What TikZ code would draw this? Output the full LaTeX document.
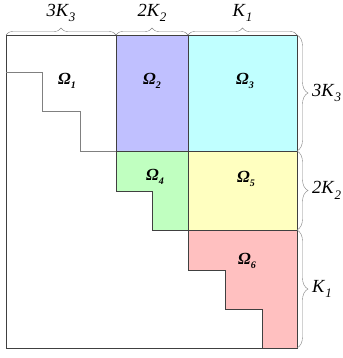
\documentclass[tikz,border=0pt]{standalone}
\usepackage{fontspec}
\setmainfont{Liberation Serif}
\usetikzlibrary{decorations.pathreplacing}
\definecolor{omlila}{RGB}{192,192,255}
\definecolor{omcyan}{RGB}{192,255,255}
\definecolor{omgreen}{RGB}{192,255,192}
\definecolor{omyellow}{RGB}{255,255,192}
\definecolor{ompink}{RGB}{255,192,192}
\newcommand{\kk}[2]{\textit{#1K}\raisebox{-0.3em}{\fontsize{13}{13}\selectfont\textit{#2}}}
\newcommand{\om}[1]{\textbf{\textit{Ω}}\raisebox{-0.25em}{\fontsize{10}{10}\selectfont\textbf{\textit{#1}}}}
\begin{document}
\begin{tikzpicture}[x=1pt,y=-1pt,
  box/.style={draw=black!75,line width=0.6pt},
  stair/.style={draw=black!50,line width=0.9pt},
  kbrace/.style={draw=black!50,decorate,decoration={brace,amplitude=#1}},
  kbrace/.default=7pt,
  klabel/.style={font=\fontsize{18.5}{18.5}\selectfont,inner sep=1pt},
  omlabel/.style={font=\fontsize{17}{17}\selectfont,inner sep=1pt}]
\useasboundingbox (0,0) rectangle (342,358);
% coloured blocks
\fill[omlila] (116,35) rectangle (188,151);
\fill[omcyan] (188,35) rectangle (297,151);
\fill[omgreen] (116,151) -- (188,151) -- (188,230) -- (152,230) -- (152,191) -- (116,191) -- cycle;
\fill[omyellow] (188,151) rectangle (297,230);
\fill[ompink] (188,230) -- (297,230) -- (297,348) -- (262,348) -- (262,309) -- (225,309) -- (225,270) -- (188,270) -- cycle;
% outlines
\draw[box] (6,35) rectangle (297,348);
\draw[box] (116,35) -- (116,191) -- (152,191) -- (152,230) -- (297,230);
\draw[box] (188,35) -- (188,270) -- (225,270) -- (225,309) -- (262,309) -- (262,348);
\draw[box] (116,151) -- (297,151);
\draw[stair] (6,72) -- (42,72) -- (42,111) -- (80,111) -- (80,151) -- (116,151);
% labels
\node[omlabel] (om1) at (67,81) {\om{1}};
\node[omlabel] (om2) at (152,81) {\om{2}};
\node[omlabel] (om3) at (245,81) {\om{3}};
\node[omlabel] (om4) at (155,177) {\om{4}};
\node[omlabel] (om5) at (246,179) {\om{5}};
\node[omlabel] (om6) at (247,261) {\om{6}};
% braces on top
\draw[kbrace] (6,35) -- (116,35) node[klabel,midway,above=12pt] (ktop3) {\kk{3}{3}};
\draw[kbrace] (116,35) -- (188,35) node[klabel,midway,above=12pt] (ktop2) {\kk{2}{2}};
\draw[kbrace] (188,35) -- (297,35) node[klabel,midway,above=12pt] (ktop1) {\kk{}{1}};
% braces on the right
\draw[kbrace=11pt] (297,35) -- (297,151) node[klabel,midway,right=14pt] (kright3) {\kk{3}{3}};
\draw[kbrace=11pt] (297,151) -- (297,230) node[klabel,midway,right=14pt] (kright2) {\kk{2}{2}};
\draw[kbrace=11pt] (297,230) -- (297,348) node[klabel,midway,right=14pt] (kright1) {\kk{}{1}};
\end{tikzpicture}
\end{document}
